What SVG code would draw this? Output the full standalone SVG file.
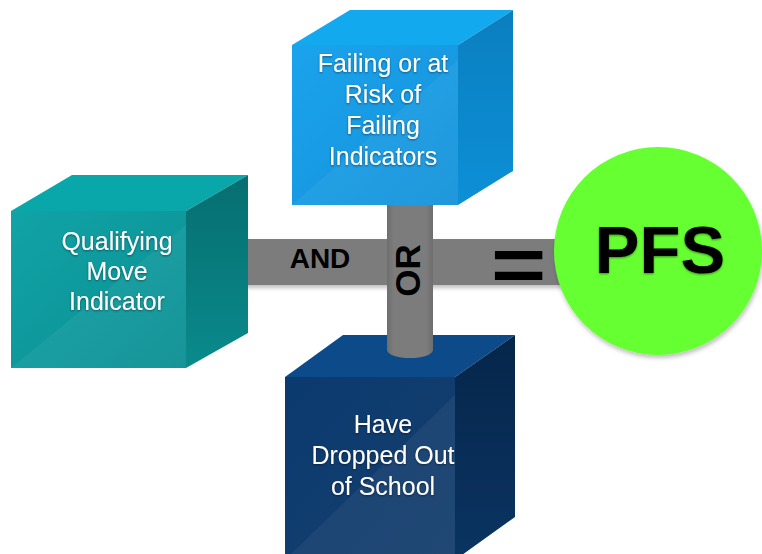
<svg xmlns="http://www.w3.org/2000/svg" width="762" height="554" viewBox="0 0 762 554">
  <defs>
    <filter id="txtShadow" x="-20%" y="-20%" width="140%" height="140%">
      <feDropShadow dx="0" dy="1" stdDeviation="1.2" flood-color="#000" flood-opacity="0.45"/>
    </filter>
    <filter id="softShadow" x="-10%" y="-10%" width="130%" height="130%">
      <feDropShadow dx="1" dy="3" stdDeviation="2" flood-color="#000" flood-opacity="0.25"/>
    </filter>
    <linearGradient id="tealFront" x1="0" y1="0" x2="1" y2="1">
      <stop offset="0" stop-color="#11a3a6"/>
      <stop offset="1" stop-color="#0b8f93"/>
    </linearGradient>
    <linearGradient id="tealRight" x1="0" y1="0" x2="0" y2="1">
      <stop offset="0" stop-color="#066e70"/>
      <stop offset="1" stop-color="#0a8a8c"/>
    </linearGradient>
    <linearGradient id="blueFront" x1="0" y1="0" x2="1" y2="1">
      <stop offset="0" stop-color="#1aa3ec"/>
      <stop offset="1" stop-color="#1592da"/>
    </linearGradient>
    <linearGradient id="blueRight" x1="0" y1="0" x2="0" y2="1">
      <stop offset="0" stop-color="#0a7fc0"/>
      <stop offset="1" stop-color="#0d8fd6"/>
    </linearGradient>
    <linearGradient id="navyFront" x1="0" y1="0" x2="1" y2="1">
      <stop offset="0" stop-color="#0b3a70"/>
      <stop offset="1" stop-color="#163f6c"/>
    </linearGradient>
    <linearGradient id="navyRight" x1="0" y1="0" x2="0" y2="1">
      <stop offset="0" stop-color="#05264a"/>
      <stop offset="1" stop-color="#0b3462"/>
    </linearGradient>
    <linearGradient id="cyl" x1="0" y1="0" x2="1" y2="0">
      <stop offset="0" stop-color="#6e6e6e"/>
      <stop offset="0.15" stop-color="#7c7c7c"/>
      <stop offset="0.85" stop-color="#7c7c7c"/>
      <stop offset="1" stop-color="#6e6e6e"/>
    </linearGradient>
  </defs>
  <style>
    .lbl { font-family: "Liberation Sans", Arial, Helvetica, sans-serif; font-size: 25px; fill: #ffffff; text-anchor: middle; }
    .op { font-family: "Liberation Sans", Arial, Helvetica, sans-serif; font-weight: bold; fill: #000000; text-anchor: middle; }
    .sheen { fill: #ffffff; fill-opacity: 0.05; }
  </style>

  <g id="connectors">
    <rect x="186" y="239" width="380" height="46" fill="#7b7b7b" filter="url(#softShadow)"/>
    <text class="op" x="320" y="268" font-size="28">AND</text>
    <text class="op" transform="scale(1.05,0.84)" x="494" y="347" font-size="90">=</text>
  </g>

  <g id="node-dropped">
    <polygon points="285,377 343,335 515,335 455,377" fill="#0d4a8a"/>
    <polygon points="455,377 515,335 515,517 455,560" fill="url(#navyRight)"/>
    <rect x="285" y="377" width="170" height="183" fill="url(#navyFront)"/>
    <polygon class="sheen" points="285,560 455,395 455,560"/>
    <g filter="url(#txtShadow)">
      <text class="lbl" x="383" y="433">Have</text>
      <text class="lbl" x="383" y="464">Dropped Out</text>
      <text class="lbl" x="383" y="495">of School</text>
    </g>
  </g>

  <g id="connector-or">
    <rect x="387" y="200" width="46" height="150" fill="url(#cyl)"/>
    <ellipse cx="410" cy="350" rx="23" ry="8" fill="url(#cyl)"/>
    <text class="op" transform="translate(420,270.5) rotate(-90)" x="0" y="0" font-size="35">OR</text>
  </g>

  <g id="node-failing">
    <polygon points="292,45 350,10 513,10 458,45" fill="#12a9ef"/>
    <polygon points="458,45 513,10 513,171 458,205" fill="url(#blueRight)"/>
    <rect x="292" y="45" width="166" height="160" fill="url(#blueFront)"/>
    <polygon class="sheen" points="292,205 458,60 458,205"/>
    <g filter="url(#txtShadow)">
      <text class="lbl" x="383" y="72">Failing or at</text>
      <text class="lbl" x="383" y="103">Risk of</text>
      <text class="lbl" x="383" y="134">Failing</text>
      <text class="lbl" x="383" y="165">Indicators</text>
    </g>
  </g>

  <g id="node-qualifying">
    <polygon points="11,211 72,175 248,175 186,211" fill="#0aa7aa"/>
    <polygon points="186,211 248,175 248,333 186,368" fill="url(#tealRight)"/>
    <rect x="11" y="211" width="175" height="157" fill="url(#tealFront)"/>
    <polygon class="sheen" points="11,368 186,225 186,368"/>
    <g filter="url(#txtShadow)">
      <text class="lbl" x="117" y="250">Qualifying</text>
      <text class="lbl" x="117" y="280">Move</text>
      <text class="lbl" x="117" y="310">Indicator</text>
    </g>
  </g>

  <g id="node-pfs">
    <circle cx="658" cy="251" r="104" fill="#66ff33" filter="url(#softShadow)"/>
    <text class="op" x="660" y="273" font-size="67" filter="url(#txtShadow)">PFS</text>
  </g>
</svg>
